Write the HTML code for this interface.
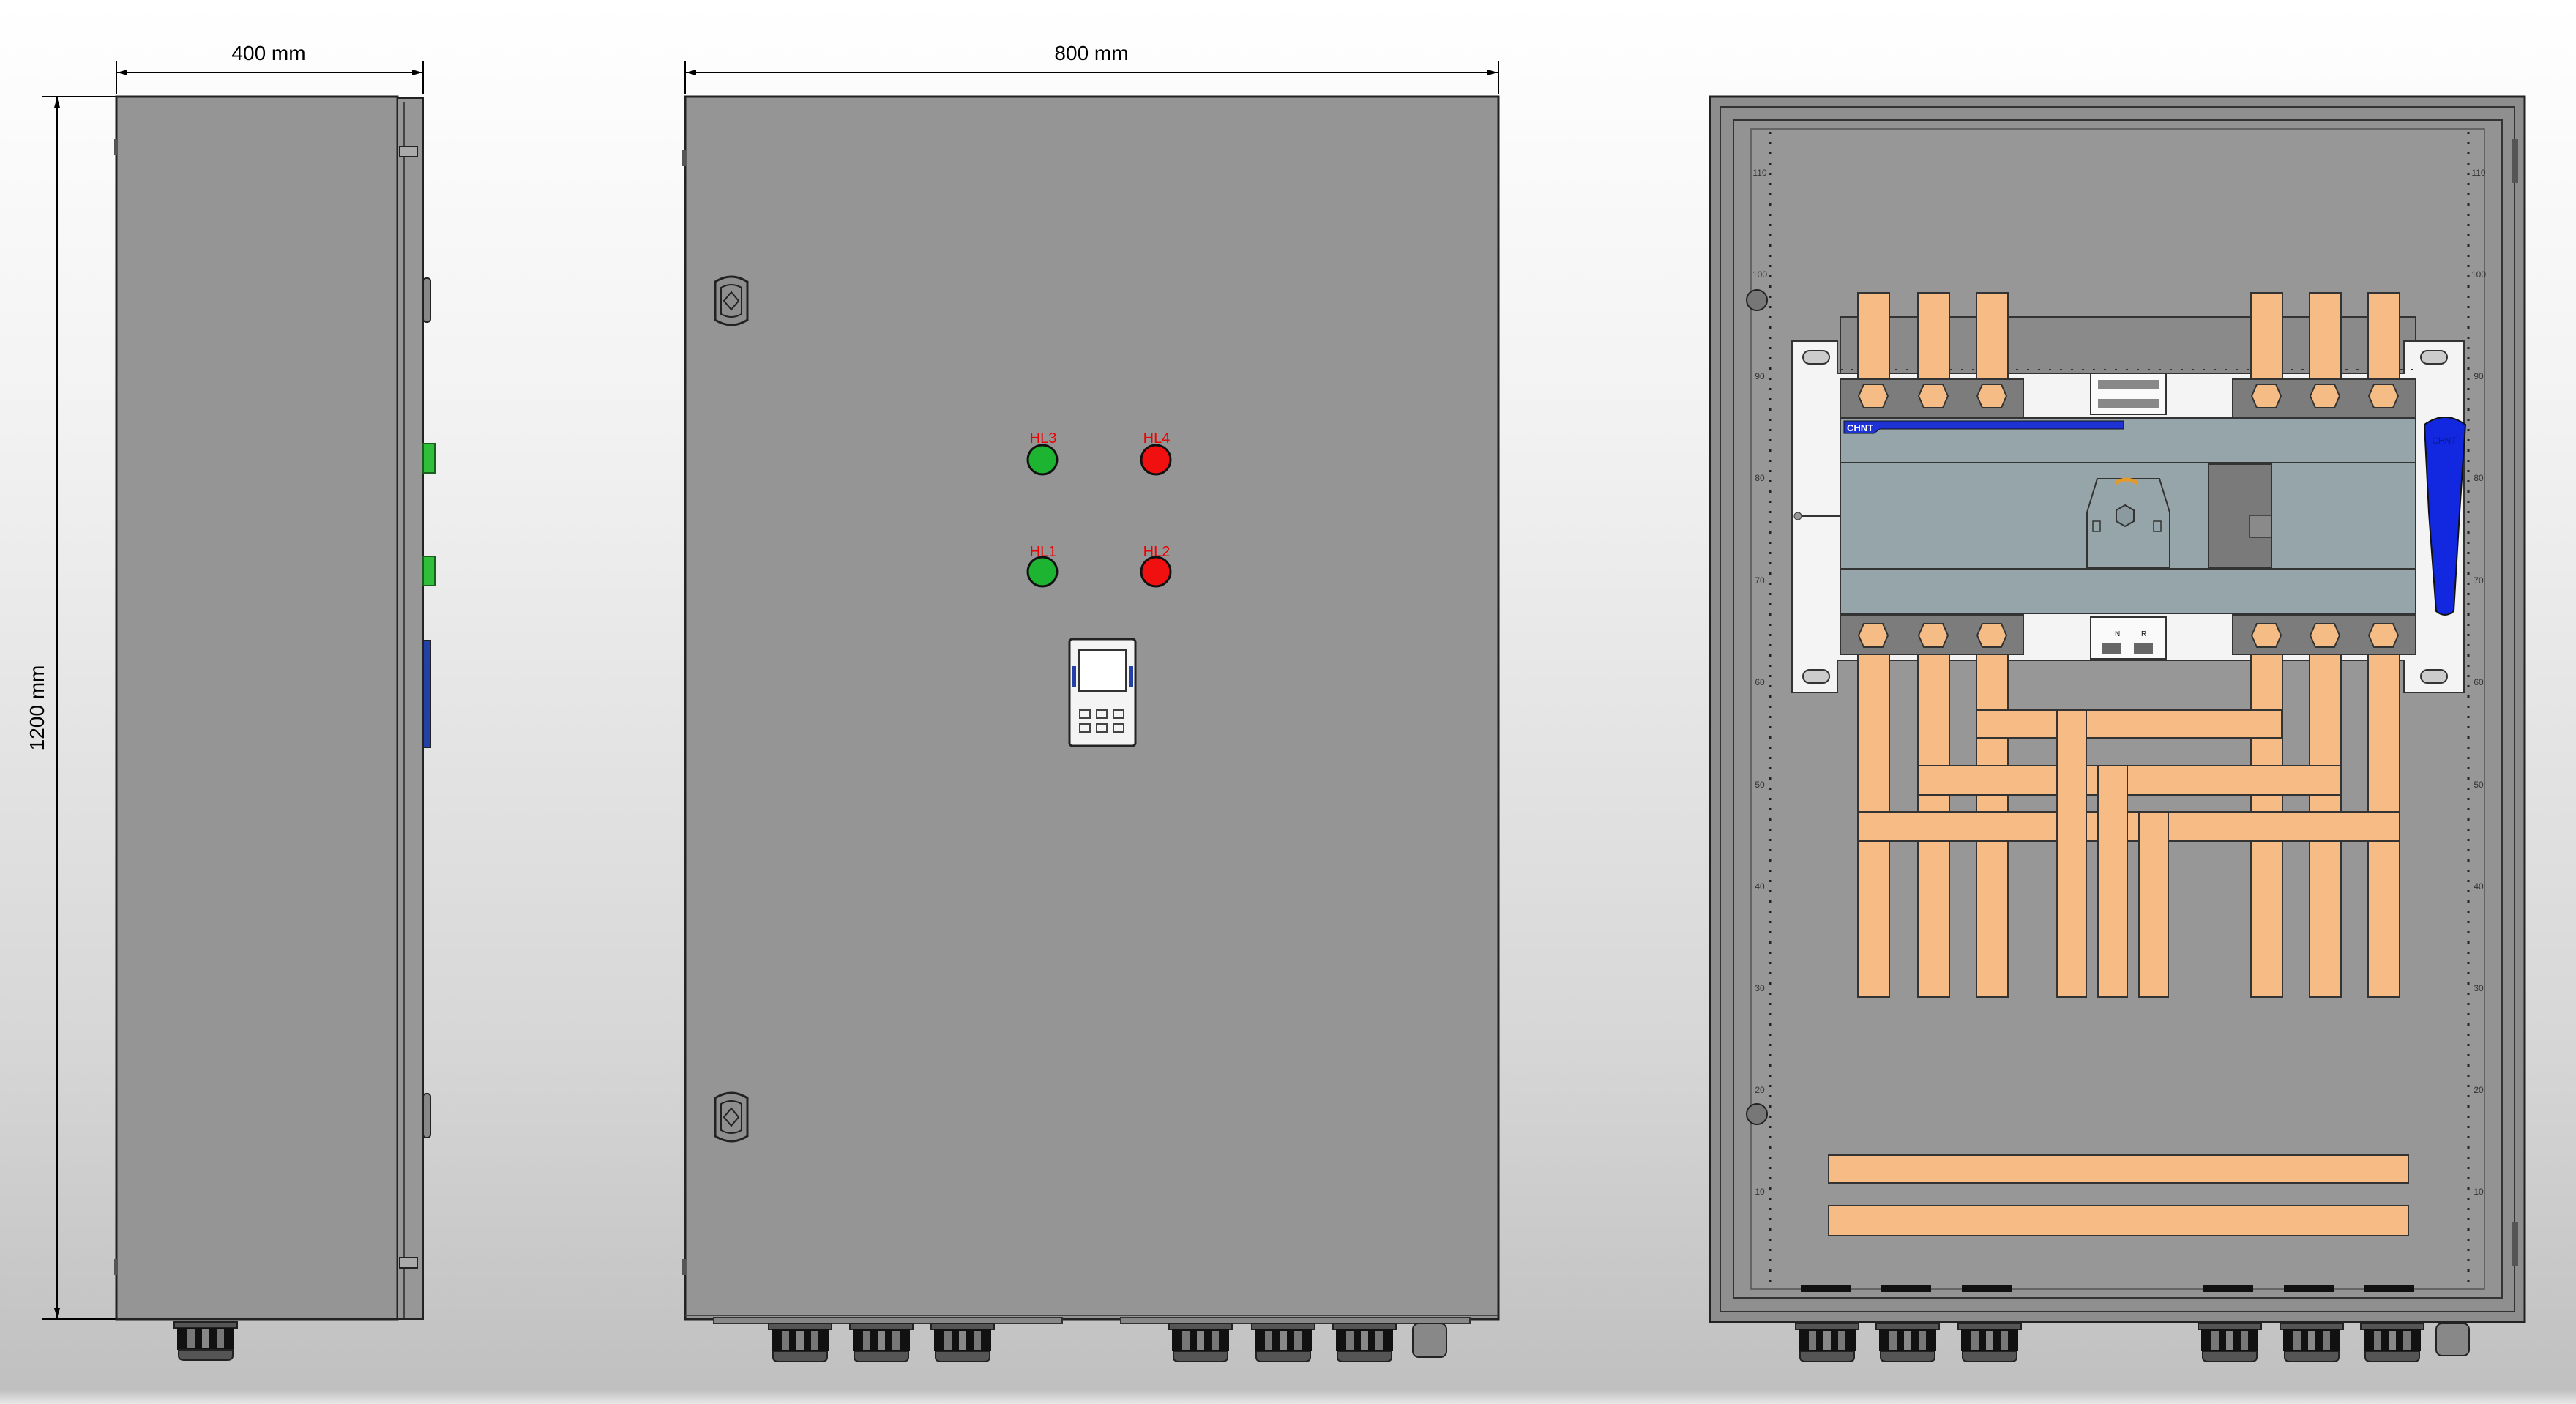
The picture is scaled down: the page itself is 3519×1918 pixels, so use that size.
<!DOCTYPE html>
<html><head><meta charset="utf-8"><style>
html,body{margin:0;padding:0;}
body{width:3519px;height:1918px;overflow:hidden;background:linear-gradient(#ffffff 0%,#f2f2f2 30%,#d6d6d6 75%,#c0c0c0 99%,#e8e8e8 100%);}
svg{display:block;}
text{font-family:"Liberation Sans",sans-serif;}
</style></head><body>
<svg width="3519" height="1918" viewBox="0 0 3519 1918" xmlns="http://www.w3.org/2000/svg">
<defs>
<g id="gland">
 <rect x="0" y="0" width="86" height="8" fill="#555" stroke="#222" stroke-width="2"/>
 <rect x="4" y="8" width="78" height="30" fill="#111"/>
 <rect x="18" y="10" width="10" height="26" fill="#777"/><rect x="58" y="10" width="10" height="26" fill="#777"/><rect x="38" y="10" width="10" height="26" fill="#888"/>
 <path d="M6 38 H80 V46 Q80 52 72 52 H14 Q6 52 6 46 Z" fill="#555" stroke="#222" stroke-width="2"/>
</g>
<g id="lock">
 <path d="M-22 -26 Q0 -40 22 -26 V26 Q0 40 -22 26 Z" fill="#8e8e8e" stroke="#222" stroke-width="3"/>
 <path d="M-14 -18 Q0 -26 14 -18 V18 Q0 26 -14 18 Z" fill="none" stroke="#222" stroke-width="2"/>
 <path d="M0 -12 L10 0 L0 12 L-10 0 Z" fill="none" stroke="#222" stroke-width="2"/>
</g>
<g id="hex"><polygon points="-13,-16 13,-16 20,0 13,16 -13,16 -20,0" fill="#f6bc86" stroke="#333" stroke-width="2"/></g>
</defs>

<!-- ============ LEFT SIDE VIEW ============ -->
<line x1="159" y1="84" x2="159" y2="128" stroke="#000" stroke-width="2"/>
<line x1="578" y1="84" x2="578" y2="128" stroke="#000" stroke-width="2"/>
<line x1="160" y1="99" x2="577" y2="99" stroke="#000" stroke-width="2"/>
<polygon points="160,99 174,95 174,103" fill="#000"/><polygon points="577,99 563,95 563,103" fill="#000"/>
<text x="367" y="82" font-size="28" text-anchor="middle" fill="#000">400 mm</text>
<line x1="58" y1="132" x2="158" y2="132" stroke="#000" stroke-width="2"/>
<line x1="58" y1="1802" x2="158" y2="1802" stroke="#000" stroke-width="2"/>
<line x1="78" y1="133" x2="78" y2="1801" stroke="#000" stroke-width="2"/>
<polygon points="78,133 74,147 82,147" fill="#000"/><polygon points="78,1801 74,1787 82,1787" fill="#000"/>
<text x="60" y="967" font-size="28" text-anchor="middle" fill="#000" transform="rotate(-90 60 967)">1200 mm</text>

<rect x="159" y="132" width="384" height="1670" fill="#959595" stroke="#222" stroke-width="3"/>
<rect x="543" y="134" width="35" height="1668" fill="#979797" stroke="#222" stroke-width="2"/>
<line x1="552" y1="140" x2="552" y2="1800" stroke="#444" stroke-width="2"/>
<rect x="546" y="200" width="24" height="14" fill="#aaa" stroke="#222" stroke-width="2"/>
<rect x="546" y="1718" width="24" height="14" fill="#aaa" stroke="#222" stroke-width="2"/>
<rect x="578" y="380" width="10" height="60" rx="4" fill="#888" stroke="#222" stroke-width="2"/>
<rect x="578" y="1494" width="10" height="60" rx="4" fill="#888" stroke="#222" stroke-width="2"/>
<rect x="578" y="606" width="16" height="40" fill="#2fbf3a" stroke="#1a5e20" stroke-width="2"/>
<rect x="578" y="760" width="16" height="40" fill="#2fbf3a" stroke="#1a5e20" stroke-width="2"/>
<rect x="578" y="875" width="10" height="146" fill="#2340a8" stroke="#222" stroke-width="2"/>
<rect x="156" y="190" width="5" height="22" fill="#555"/>
<rect x="156" y="1720" width="5" height="22" fill="#555"/>
<use href="#gland" x="238" y="1806"/>

<!-- ============ FRONT VIEW ============ -->
<line x1="936" y1="84" x2="936" y2="128" stroke="#000" stroke-width="2"/>
<line x1="2047" y1="84" x2="2047" y2="128" stroke="#000" stroke-width="2"/>
<line x1="937" y1="99" x2="2046" y2="99" stroke="#000" stroke-width="2"/>
<polygon points="937,99 951,95 951,103" fill="#000"/><polygon points="2046,99 2032,95 2032,103" fill="#000"/>
<text x="1491" y="82" font-size="28" text-anchor="middle" fill="#000">800 mm</text>

<rect x="936" y="132" width="1111" height="1670" fill="#959595" stroke="#222" stroke-width="3"/>
<line x1="936" y1="1797" x2="2047" y2="1797" stroke="#444" stroke-width="2"/>
<rect x="931" y="205" width="6" height="22" fill="#555"/><rect x="931" y="1720" width="6" height="22" fill="#555"/>
<use href="#lock" x="999" y="411"/>
<use href="#lock" x="999" y="1526"/>
<text x="1425" y="605" font-size="20" fill="#e00" text-anchor="middle">HL3</text>
<text x="1580" y="605" font-size="20" fill="#e00" text-anchor="middle">HL4</text>
<text x="1425" y="760" font-size="20" fill="#e00" text-anchor="middle">HL1</text>
<text x="1580" y="760" font-size="20" fill="#e00" text-anchor="middle">HL2</text>
<circle cx="1424" cy="628" r="20" fill="#1db431" stroke="#111" stroke-width="3"/>
<circle cx="1579" cy="628" r="20" fill="#f01010" stroke="#111" stroke-width="3"/>
<circle cx="1424" cy="781" r="20" fill="#1db431" stroke="#111" stroke-width="3"/>
<circle cx="1579" cy="781" r="20" fill="#f01010" stroke="#111" stroke-width="3"/>
<rect x="1461" y="873" width="90" height="146" rx="4" fill="#f4f4f4" stroke="#222" stroke-width="3"/>
<rect x="1474" y="888" width="64" height="56" fill="#fff" stroke="#333" stroke-width="2"/>
<rect x="1464" y="910" width="6" height="28" fill="#2340a8"/><rect x="1542" y="910" width="6" height="28" fill="#2340a8"/>
<g fill="none" stroke="#444" stroke-width="2">
<rect x="1475" y="970" width="14" height="11"/><rect x="1498" y="970" width="14" height="11"/><rect x="1521" y="970" width="14" height="11"/>
<rect x="1475" y="989" width="14" height="11"/><rect x="1498" y="989" width="14" height="11"/><rect x="1521" y="989" width="14" height="11"/>
</g>
<rect x="975" y="1800" width="476" height="8" fill="#888" stroke="#333" stroke-width="2"/>
<rect x="1531" y="1800" width="477" height="8" fill="#888" stroke="#333" stroke-width="2"/>
<use href="#gland" x="1050" y="1808"/><use href="#gland" x="1161" y="1808"/><use href="#gland" x="1272" y="1808"/>
<use href="#gland" x="1597" y="1808"/><use href="#gland" x="1710" y="1808"/><use href="#gland" x="1821" y="1808"/>
<rect x="1930" y="1808" width="46" height="46" rx="8" fill="#888" stroke="#222" stroke-width="2"/>

<!-- ============ RIGHT VIEW (OPEN) ============ -->
<rect x="2336" y="132" width="1113" height="1674" fill="#8d8d8d" stroke="#222" stroke-width="3"/>
<rect x="2350" y="146" width="1085" height="1646" fill="#8f8f8f" stroke="#333" stroke-width="2"/>
<rect x="2368" y="164" width="1050" height="1609" fill="#939393" stroke="#333" stroke-width="2"/>
<rect x="2392" y="176" width="1002" height="1585" fill="#979797" stroke="#555" stroke-width="1.5"/>
<!-- rulers -->
<g stroke="#222" stroke-width="3">
<line x1="2418" y1="180" x2="2418" y2="1760" stroke-dasharray="3 11"/>
<line x1="3372" y1="180" x2="3372" y2="1760" stroke-dasharray="3 11"/>
</g>
<g fill="#333" font-size="12" text-anchor="middle">
<text x="2404" y="240">110</text><text x="2404" y="379">100</text><text x="2404" y="518">90</text><text x="2404" y="657">80</text><text x="2404" y="797">70</text><text x="2404" y="936">60</text><text x="2404" y="1076">50</text><text x="2404" y="1215">40</text><text x="2404" y="1354">30</text><text x="2404" y="1493">20</text><text x="2404" y="1632">10</text>
<text x="3386" y="240">110</text><text x="3386" y="379">100</text><text x="3386" y="518">90</text><text x="3386" y="657">80</text><text x="3386" y="797">70</text><text x="3386" y="936">60</text><text x="3386" y="1076">50</text><text x="3386" y="1215">40</text><text x="3386" y="1354">30</text><text x="3386" y="1493">20</text><text x="3386" y="1632">10</text>
</g>
<circle cx="2400" cy="410" r="14" fill="#777" stroke="#222" stroke-width="2"/>
<circle cx="2400" cy="1522" r="14" fill="#777" stroke="#222" stroke-width="2"/>
<rect x="3432" y="190" width="8" height="60" fill="#555"/><rect x="3432" y="1670" width="8" height="60" fill="#555"/>
<!-- bottom flange slots -->
<g fill="#111"><rect x="2460" y="1755" width="68" height="10"/><rect x="2570" y="1755" width="68" height="10"/><rect x="2680" y="1755" width="68" height="10"/><rect x="3010" y="1755" width="68" height="10"/><rect x="3120" y="1755" width="68" height="10"/><rect x="3230" y="1755" width="68" height="10"/></g>

<!-- top bar of plate -->
<rect x="2514" y="433" width="786" height="77" fill="#8a8a8a" stroke="#333" stroke-width="2"/>
<!-- white mounting rail -->
<path d="M2448 466 H2510 V510 H3284 V466 H3366 V946 H3284 V902 H2510 V946 H2448 Z" fill="#f4f4f4" stroke="#333" stroke-width="2"/>
<rect x="2463" y="479" width="36" height="18" rx="9" fill="#ccc" stroke="#333" stroke-width="2"/>
<rect x="3307" y="479" width="36" height="18" rx="9" fill="#ccc" stroke="#333" stroke-width="2"/>
<rect x="2463" y="915" width="36" height="18" rx="9" fill="#ccc" stroke="#333" stroke-width="2"/>
<rect x="3307" y="915" width="36" height="18" rx="9" fill="#ccc" stroke="#333" stroke-width="2"/>
<line x1="2514" y1="505" x2="3300" y2="505" stroke="#333" stroke-width="2" stroke-dasharray="3 12"/>

<!-- top busbars -->
<g fill="#f7bb85" stroke="#333" stroke-width="2">
<rect x="2538" y="400" width="43" height="140"/><rect x="2620" y="400" width="43" height="140"/><rect x="2700" y="400" width="43" height="140"/>
<rect x="3075" y="400" width="43" height="140"/><rect x="3155" y="400" width="43" height="140"/><rect x="3235" y="400" width="43" height="140"/>
</g>
<!-- top terminal blocks -->
<rect x="2514" y="518" width="250" height="52" fill="#7c7c7c" stroke="#333" stroke-width="2"/>
<rect x="3050" y="518" width="250" height="52" fill="#7c7c7c" stroke="#333" stroke-width="2"/>
<use href="#hex" x="2559" y="541"/><use href="#hex" x="2641" y="541"/><use href="#hex" x="2721" y="541"/>
<use href="#hex" x="3096" y="541"/><use href="#hex" x="3176" y="541"/><use href="#hex" x="3256" y="541"/>
<rect x="2856" y="510" width="103" height="56" fill="#fafafa" stroke="#333" stroke-width="2"/>
<rect x="2866" y="519" width="83" height="12" fill="#888"/><rect x="2866" y="545" width="83" height="12" fill="#888"/>

<!-- breaker body -->
<rect x="2514" y="571" width="786" height="267" fill="#95a5a9" stroke="#333" stroke-width="2"/>
<line x1="2514" y1="632" x2="3300" y2="632" stroke="#333" stroke-width="2"/>
<line x1="2514" y1="777" x2="3300" y2="777" stroke="#333" stroke-width="2"/>
<path d="M2519 575 H2901 V586 H2568 L2560 592 H2519 Z" fill="#1d33d6" stroke="#111" stroke-width="1"/>
<text x="2523" y="589" font-size="13" fill="#fff" font-weight="bold">CHNT</text>
<rect x="3017" y="634" width="86" height="141" fill="#7a7a7a" stroke="#333" stroke-width="2"/>
<rect x="3073" y="704" width="30" height="30" fill="#8a8a8a" stroke="#333" stroke-width="1.5"/>
<polygon points="2865,654 2950,654 2964,700 2964,776 2851,776 2851,700" fill="#95a5a9" stroke="#333" stroke-width="2"/>
<polygon points="2903,690 2915,697 2915,712 2903,719 2891,712 2891,697" fill="#8a9a9e" stroke="#333" stroke-width="2"/>
<path d="M2890 660 Q2905 650 2920 660" stroke="#e39a2a" stroke-width="5" fill="none"/>
<rect x="2859" y="712" width="10" height="14" fill="none" stroke="#333" stroke-width="1.5"/>
<rect x="2942" y="712" width="10" height="14" fill="none" stroke="#333" stroke-width="1.5"/>
<line x1="2455" y1="705" x2="2514" y2="705" stroke="#333" stroke-width="2"/><circle cx="2456" cy="705" r="5" fill="#999" stroke="#333"/>
<!-- handle -->
<path d="M3312 580 Q3340 560 3368 580 L3360 700 L3352 835 Q3340 845 3328 835 L3318 700 Z" fill="#1228e0" stroke="#111" stroke-width="2"/>
<text x="3339" y="606" font-size="12" fill="#0a1a80" text-anchor="middle">CHNT</text>

<!-- bottom terminal blocks -->
<rect x="2514" y="840" width="250" height="54" fill="#7c7c7c" stroke="#333" stroke-width="2"/>
<rect x="3050" y="840" width="250" height="54" fill="#7c7c7c" stroke="#333" stroke-width="2"/>
<use href="#hex" x="2559" y="868"/><use href="#hex" x="2641" y="868"/><use href="#hex" x="2721" y="868"/>
<use href="#hex" x="3096" y="868"/><use href="#hex" x="3176" y="868"/><use href="#hex" x="3256" y="868"/>
<rect x="2856" y="843" width="103" height="57" fill="#fafafa" stroke="#333" stroke-width="2"/>
<text x="2889" y="869" font-size="10" fill="#111">N</text><text x="2925" y="869" font-size="10" fill="#111">R</text>
<rect x="2872" y="879" width="26" height="14" fill="#666"/><rect x="2915" y="879" width="26" height="14" fill="#666"/>

<!-- lower busbars -->
<g fill="#f7bb85" stroke="#333" stroke-width="2">
<rect x="2538" y="894" width="43" height="468"/><rect x="2620" y="894" width="43" height="468"/><rect x="2700" y="894" width="43" height="468"/>
<rect x="3075" y="894" width="43" height="468"/><rect x="3155" y="894" width="43" height="468"/><rect x="3235" y="894" width="43" height="468"/>
<rect x="2700" y="970" width="417" height="38"/>
<rect x="2620" y="1046" width="578" height="40"/>
<rect x="2538" y="1109" width="740" height="40"/>
<rect x="2810" y="970" width="40" height="392"/>
<rect x="2866" y="1046" width="40" height="316"/>
<rect x="2922" y="1109" width="40" height="253"/>
<rect x="2498" y="1578" width="792" height="38"/>
<rect x="2498" y="1647" width="792" height="41"/>
</g>

<use href="#gland" x="2453" y="1808"/><use href="#gland" x="2563" y="1808"/><use href="#gland" x="2675" y="1808"/>
<use href="#gland" x="3003" y="1808"/><use href="#gland" x="3115" y="1808"/><use href="#gland" x="3225" y="1808"/>
<rect x="3328" y="1808" width="45" height="44" rx="8" fill="#888" stroke="#222" stroke-width="2"/>
</svg>
</body></html>
